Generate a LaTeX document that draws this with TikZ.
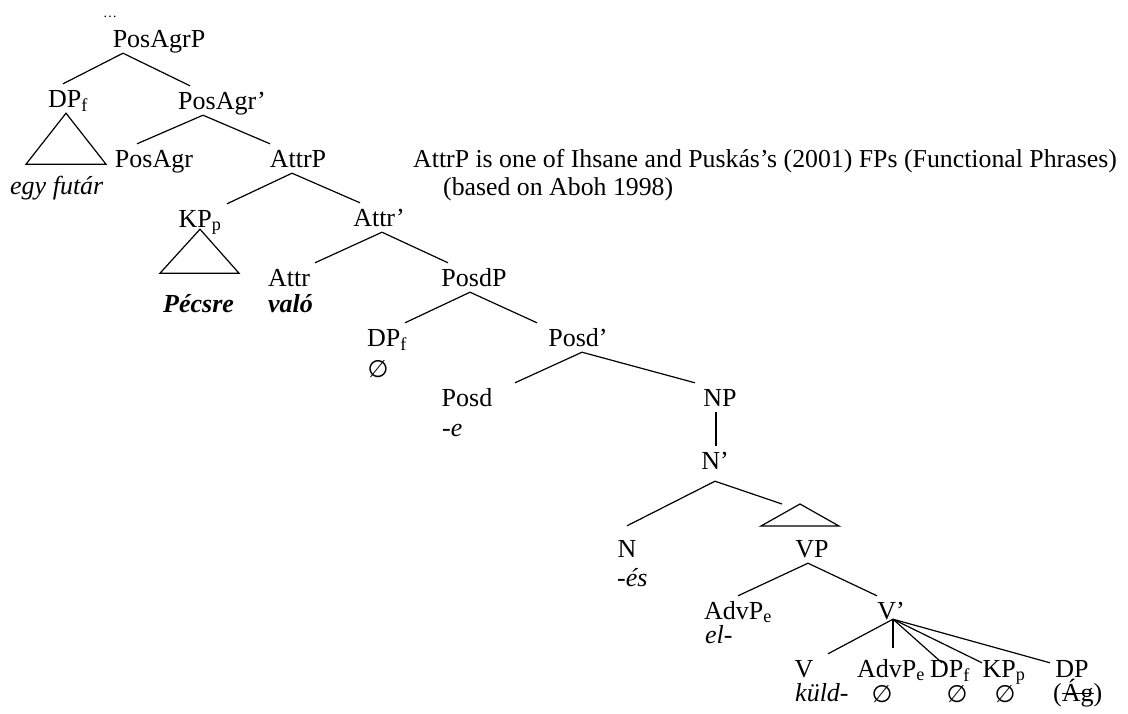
\documentclass[tikz,border=0pt]{standalone}
\usepackage{fontspec}
\setmainfont{Liberation Serif}
\newfontfamily\voidfont{DejaVu Sans}

\begin{document}
\begin{tikzpicture}[
        x=1pt, y=-1pt,
        cat/.style={anchor=base, inner xsep=0pt, inner ysep=6pt, text height=17pt, text depth=0pt, font=\fontsize{26}{30}\selectfont},
        word/.style={anchor=base west, inner sep=0pt, font=\fontsize{26}{30}\selectfont\itshape},
        nullset/.style={anchor=base, inner sep=0pt, font=\fontsize{24}{26}\selectfont\voidfont},
        branch/.style={line width=1.2pt},
        roof/.style={line width=1.2pt, line join=miter}
    ]
        \useasboundingbox (0,0) rectangle (1128,713);

        % PosAgrP and its specifier
        \node[anchor=base, inner sep=0pt, font=\fontsize{14}{16}\selectfont] (dots) at (110,17) {…};
        \node[cat] (posagrp) at (159,47) {PosAgrP};
        \node[cat] (dp_f1) at (68,107) {DP\textsubscript{f}};
        \node[cat] (posagr_bar) at (222,109) {PosAgr’};
        \node[cat] (posagr) at (154,167) {PosAgr};
        \node[cat] (attrp) at (298,167) {AttrP};
        \node[word] (egy) at (10,194) {egy futár};
        \draw[branch] ([xshift=-36pt]posagrp.south) -- ([xshift=-5pt]dp_f1.north);
        \draw[branch] ([xshift=-36pt]posagrp.south) -- ([xshift=-32pt]posagr_bar.north);
        \draw[roof] ([xshift=-2pt]dp_f1.south) -- ++(-40,51) -- ++(80,0) -- cycle;
        \draw[branch] ([xshift=-19pt]posagr_bar.south) -- ([xshift=-17pt]posagr.north);
        \draw[branch] ([xshift=-19pt]posagr_bar.south) -- ([xshift=-28pt]attrp.north);

        % note on AttrP
        \node[anchor=base west, inner sep=0pt, font=\fontsize{25.8}{30}\selectfont] (note1) at (413,167) {AttrP is one of Ihsane and Puskás’s (2001) FPs (Functional Phrases)};
        \node[anchor=base west, inner sep=0pt, font=\fontsize{25.8}{30}\selectfont] (note2) at (443,195) {(based on Aboh 1998)};

        % AttrP
        \node[cat] (kp_p1) at (200,227) {KP\textsubscript{p}};
        \node[cat] (attr_bar) at (379,226) {Attr’};
        \node[cat] (attr) at (289,286) {Attr};
        \node[cat] (posdp) at (474,286) {PosdP};
        \node[word, font=\fontsize{26}{30}\selectfont\bfseries\itshape] (pecsre) at (163,312) {Pécsre};
        \node[word, font=\fontsize{26}{30}\selectfont\bfseries\itshape] (valo) at (268,312) {való};
        \draw[branch] ([xshift=-6pt]attrp.south) -- ([xshift=27pt]kp_p1.north);
        \draw[branch] ([xshift=-6pt]attrp.south) -- ([xshift=-19pt]attr_bar.north);
        \draw[roof] ([yshift=4pt]kp_p1.south) -- ++(-40,44) -- ++(79,0) -- cycle;
        \draw[branch] ([xshift=3pt]attr_bar.south) -- ([xshift=26pt]attr.north);
        \draw[branch] ([xshift=3pt]attr_bar.south) -- ([xshift=-26pt]posdp.north);

        % PosdP
        \node[cat] (dp_f2) at (387,346) {DP\textsubscript{f}};
        \node[cat] (posd_bar) at (578,346) {Posd’};
        \node[nullset] (dp_f2_null) at (378,377) {∅};
        \node[cat] (posd) at (467,406) {Posd};
        \node[cat] (np) at (720,406) {NP};
        \node[word] (posd_e) at (442,436) {-e};
        \draw[branch] ([xshift=-4pt]posdp.south) -- ([xshift=18pt]dp_f2.north);
        \draw[branch] ([xshift=-4pt]posdp.south) -- ([xshift=-41pt]posd_bar.north);
        \draw[branch] ([xshift=4pt]posd_bar.south) -- ([xshift=48pt]posd.north);
        \draw[branch] ([xshift=4pt]posd_bar.south) -- ([xshift=-25pt]np.north);

        % NP
        \node[cat] (n_bar) at (715,469) {N’};
        \coordinate (vp_roof) at (800,504);
        \node[cat] (n) at (627,557) {N};
        \node[cat] (vp) at (812,557) {VP};
        \node[word] (n_es) at (617,586) {-és};
        \draw[branch] ([xshift=-4pt]np.south) -- ([xshift=1pt]n_bar.north);
        \draw[branch] ([yshift=-6pt]n_bar.south) -- ([yshift=8pt]n.north);
        \draw[branch] ([yshift=-6pt]n_bar.south) -- ([xshift=-18pt]vp_roof);
        \draw[roof] (vp_roof) -- ++(-39,22) -- ++(78,0) -- cycle;

        % VP
        \node[cat] (advp_e1) at (738,619) {AdvP\textsubscript{e}};
        \node[cat] (v_bar) at (891,619) {V’};
        \node[word] (advp_el) at (705,643) {el-};
        \draw[branch] ([xshift=-4pt]vp.south) -- (advp_e1.north);
        \draw[branch] ([xshift=-4pt]vp.south) -- ([xshift=-14pt]v_bar.north);

        % V' and its daughters
        \node[cat] (v) at (804,677) {V};
        \node[cat] (advp_e2) at (891,677) {AdvP\textsubscript{e}};
        \node[cat] (dp_f3) at (950,677) {DP\textsubscript{f}};
        \node[cat] (kp_p2) at (1004,677) {KP\textsubscript{p}};
        \node[cat] (dp) at (1072,677) {DP};
        \node[word] (kuld) at (795,701) {küld-};
        \node[nullset] (advp_e2_null) at (882,702) {∅};
        \node[nullset] (dp_f3_null) at (957,702) {∅};
        \node[nullset] (kp_p2_null) at (1005,702) {∅};
        \node[word, font=\fontsize{26}{30}\selectfont] (ag) at (1053,701) {(Ág)};
        \draw[line width=1pt] ([shift={(9,-8)}]ag.base west) -- ++(32,0);
        \draw[branch] ([xshift=2pt,yshift=6pt]v_bar.south) -- ([xshift=24pt]v.north);
        \draw[branch] ([xshift=2pt,yshift=6pt]v_bar.south) -- ([xshift=2pt,yshift=6pt]advp_e2.north);
        \draw[branch] ([xshift=2pt,yshift=6pt]v_bar.south) -- ([xshift=-8pt,yshift=-9pt]dp_f3.north);
        \draw[branch] ([xshift=2pt,yshift=6pt]v_bar.south) -- ([xshift=-22pt,yshift=-9pt]kp_p2.north);
        \draw[branch] ([xshift=2pt,yshift=6pt]v_bar.south) -- ([xshift=-22pt,yshift=-9pt]dp.north);

    \end{tikzpicture}
\end{document}
